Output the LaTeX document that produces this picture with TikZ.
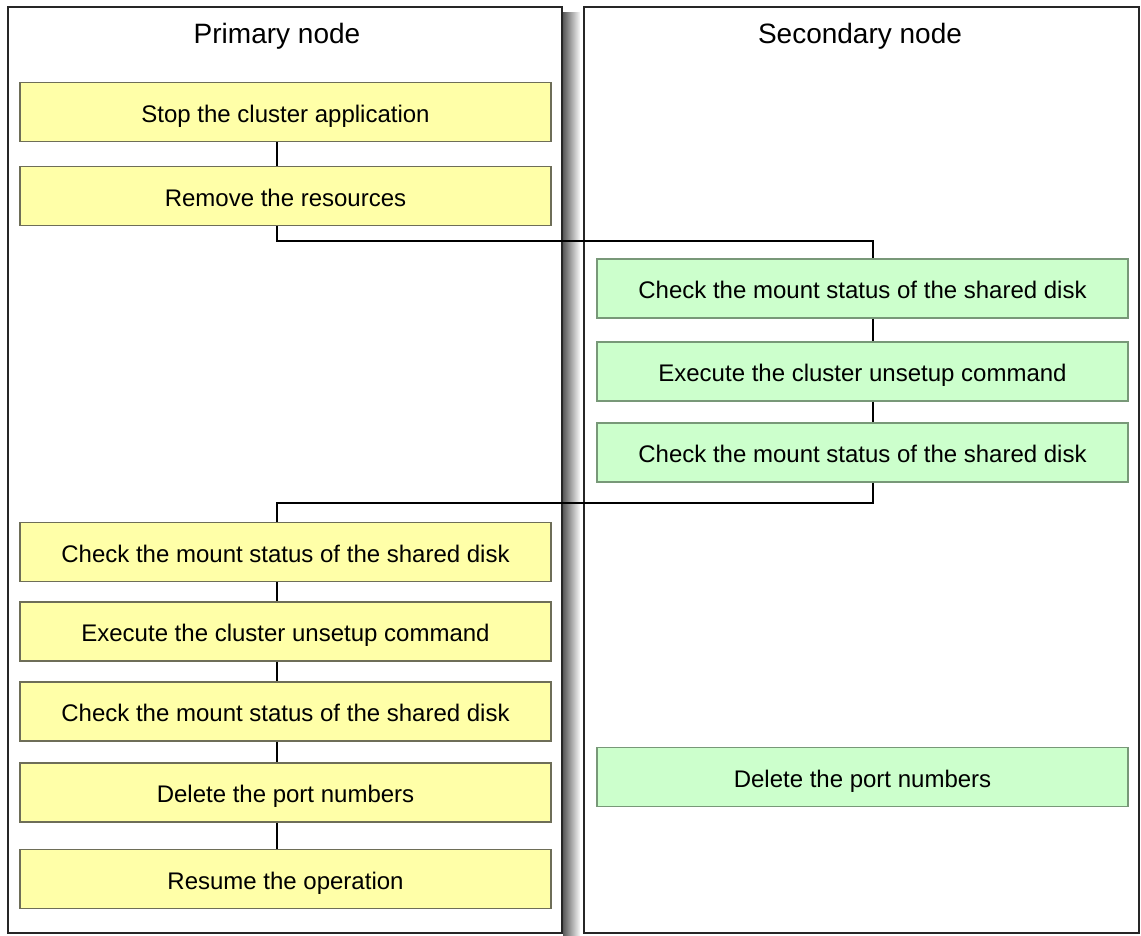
\documentclass[tikz,border=0pt]{standalone}
\usepackage{fontspec}
\setmainfont{Liberation Sans}
\usepackage{xcolor}
\usepackage{tikz}
\definecolor{stepyellow}{HTML}{FFFFA8}
\definecolor{stepgreen}{HTML}{CCFFCC}
\definecolor{edgeyellow}{HTML}{6E6E58}
\definecolor{edgegreen}{HTML}{789878}

\begin{document}
\begin{tikzpicture}[x=1pt,y=-1pt,
  panel/.style={draw=black!85,line width=2pt},
  title/.style={font=\fontsize{28}{32}\selectfont,anchor=base},
  box/.style={rectangle,draw,line width=1.2pt,inner sep=0pt,
    minimum width=531pt,minimum height=59pt,
    text height=20pt,text depth=0pt,font=\fontsize{24}{28}\selectfont},
  pbox/.style={box,fill=stepyellow,draw=edgeyellow},
  sbox/.style={box,fill=stepgreen,draw=edgegreen},
  link/.style={line width=1.3pt,black}]

  \useasboundingbox (0,0) rectangle (1141,935);

  \shade[left color=black!65,right color=black!3] (563,12) rectangle (580,935);
  \draw[panel] (8,7) rectangle (562,933);
  \draw[panel] (584,7) rectangle (1139,933);

  \node[title] (ptitle) at (277,43) {Primary node};
  \node[title] (stitle) at (860,43) {Secondary node};

  \node[pbox] (p1) at (285.5,112) {Stop the cluster application};
  \node[pbox] (p2) at (285.5,196) {Remove the resources};
  \node[pbox] (p3) at (285.5,552) {Check the mount status of the shared disk};
  \node[pbox] (p4) at (285.5,631.5) {Execute the cluster unsetup command};
  \node[pbox] (p5) at (285.5,711.5) {Check the mount status of the shared disk};
  \node[pbox] (p6) at (285.5,792.5) {Delete the port numbers};
  \node[pbox] (p7) at (285.5,879) {Resume the operation};

  \node[sbox] (s1) at (862.5,288.5) {Check the mount status of the shared disk};
  \node[sbox] (s2) at (862.5,371.5) {Execute the cluster unsetup command};
  \node[sbox] (s3) at (862.5,452.5) {Check the mount status of the shared disk};
  \node[sbox] (s4) at (862.5,777) {Delete the port numbers};

  \coordinate (lx) at (277,0);
  \coordinate (rx) at (873,0);
  \coordinate (upper) at (0,241);
  \coordinate (lower) at (0,503);

  \draw[link] (p1.south -| lx) -- (p2.north -| lx);
  \draw[link] (p2.south -| lx) |- (upper -| rx) -- (s1.north -| rx);
  \draw[link] (s1.south -| rx) -- (s2.north -| rx);
  \draw[link] (s2.south -| rx) -- (s3.north -| rx);
  \draw[link] (s3.south -| rx) |- (lower -| lx) -- (p3.north -| lx);
  \draw[link] (p3.south -| lx) -- (p4.north -| lx);
  \draw[link] (p4.south -| lx) -- (p5.north -| lx);
  \draw[link] (p5.south -| lx) -- (p6.north -| lx);
  \draw[link] (p6.south -| lx) -- (p7.north -| lx);
\end{tikzpicture}
\end{document}
